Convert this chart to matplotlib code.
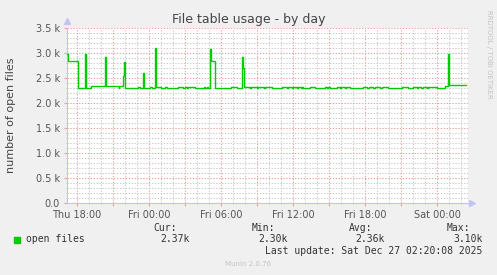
import matplotlib
matplotlib.use("Agg")
import matplotlib.pyplot as plt
from matplotlib.ticker import MultipleLocator, FuncFormatter

# hours since Thu 18:00, open files in thousands
hours = [-0.86, -0.79, -0.73, -0.03, 0.06, 0.63, 0.69, 0.77, 1.11, 1.17,
         2.29, 2.36, 2.43, 3.42, 3.47, 3.54, 3.75, 3.85, 3.94, 4.03,
         5.00, 5.06, 5.21, 5.42, 5.50, 5.58, 6.00, 6.06, 6.21, 6.46,
         6.53, 6.61, 6.90, 6.97, 7.35, 7.50, 8.45, 8.86, 9.00, 9.14,
         9.28, 9.83, 10.60, 10.70, 10.80, 10.90, 11.11, 11.18, 11.47, 12.80,
         13.36, 13.78, 13.86, 13.95, 14.40, 14.50, 15.00, 15.10, 15.60, 15.70,
         16.22, 17.06, 17.50, 17.58, 17.90, 17.98, 18.30, 18.38, 18.70, 18.78,
         18.86, 19.42, 19.83, 20.67, 20.80, 20.90, 21.08, 21.64, 21.90, 22.00,
         22.30, 22.40, 22.75, 23.86, 24.20, 24.30, 24.70, 24.80, 25.25, 25.39,
         25.94, 27.06, 27.61, 28.03, 28.30, 28.40, 28.70, 28.80, 29.14, 29.28,
         29.97, 30.25, 30.67, 30.94, 31.03, 32.39]
files = [2.98, 2.88, 2.84, 2.84, 2.30, 2.30, 2.98, 2.30, 2.30, 2.34,
         2.34, 2.92, 2.34, 2.34, 2.30, 2.34, 2.34, 2.55, 2.83, 2.30,
         2.30, 2.33, 2.30, 2.30, 2.61, 2.30, 2.30, 2.33, 2.30, 2.30,
         3.10, 2.33, 2.33, 2.30, 2.33, 2.30, 2.33, 2.31, 2.33, 2.31,
         2.32, 2.30, 2.33, 2.31, 2.33, 2.31, 3.08, 2.85, 2.30, 2.33,
         2.30, 2.92, 2.70, 2.33, 2.31, 2.33, 2.31, 2.33, 2.31, 2.33,
         2.30, 2.33, 2.31, 2.33, 2.31, 2.33, 2.31, 2.33, 2.31, 2.33,
         2.30, 2.33, 2.30, 2.33, 2.31, 2.33, 2.30, 2.33, 2.31, 2.33,
         2.31, 2.33, 2.30, 2.33, 2.31, 2.33, 2.31, 2.33, 2.30, 2.33,
         2.30, 2.33, 2.30, 2.33, 2.31, 2.33, 2.31, 2.33, 2.30, 2.33,
         2.30, 2.31, 2.34, 2.98, 2.36, 2.37]

day_labels = {0: "Thu 18:00", 6: "Fri 00:00", 12: "Fri 06:00",
              18: "Fri 12:00", 24: "Fri 18:00", 30: "Sat 00:00"}

W, H = 497, 275
fig = plt.figure(figsize=(W / 100, H / 100), dpi=100, facecolor="#F0F0F0")

ax = fig.add_axes([67 / W, 1 - 203 / H, 401 / W, 175 / H])
ax.set_facecolor("white")
ax.plot(hours, files, color="#00CC00", lw=1.0, drawstyle="steps-post", zorder=3)
ax.set_xlim(-10 / 12, 391 / 12)
ax.set_ylim(0, 3.5)

ax.xaxis.set_major_locator(MultipleLocator(3))
ax.xaxis.set_minor_locator(MultipleLocator(1))
ax.yaxis.set_major_locator(MultipleLocator(0.5))
ax.yaxis.set_minor_locator(MultipleLocator(0.1))
ax.xaxis.set_major_formatter(FuncFormatter(lambda v, p: day_labels.get(int(round(v)), "")))
ax.yaxis.set_major_formatter(FuncFormatter(lambda v, p: "0.0" if v == 0 else "%.1f k" % v))

dots = (0, (1.2, 1.6))
ax.grid(which="minor", color="#C8C8C8", lw=0.75, linestyle=dots)
ax.grid(which="major", color="#EE9C9C", lw=0.75, linestyle=dots)
ax.set_axisbelow(True)

ax.tick_params(which="major", length=2, color="#E0A0A0", labelsize=7, labelcolor="#555555", pad=3)
ax.tick_params(which="minor", length=1, color="#C8C8C8")

for s in ("top", "right"):
    ax.spines[s].set_visible(False)
for s in ("left", "bottom"):
    ax.spines[s].set_color("#C4C4F4")
    ax.spines[s].set_linewidth(0.8)
ax.plot([0], [1.04], marker="^", ms=4, color="#C4C4F4", transform=ax.transAxes, clip_on=False)
ax.plot([1.01], [0], marker=">", ms=4, color="#C4C4F4", transform=ax.transAxes, clip_on=False)

def fx(x):
    return x / W

def fy(y):
    return 1 - y / H

fig.text(fx(248.5), fy(19), "File table usage - by day", ha="center", va="center",
         fontsize=9, color="#444444")
fig.text(fx(11), fy(115), "number of open files", rotation=90, ha="center", va="center",
         fontsize=8, color="#444444")
fig.text(fx(489), fy(54), "RRDTOOL / TOBI OETIKER", rotation=270, ha="center", va="center",
         fontsize=5, color="#C4C4C4")

mono = "DejaVu Sans Mono"
fig.patches.append(plt.Rectangle((fx(14), fy(242.5)), 6 / W, 6 / H, color="#00CC00",
                                 transform=fig.transFigure, figure=fig))
fig.text(fx(26), fy(239.5), "open files", ha="left", va="center", fontsize=7, family=mono, color="#333333")
heads = [("Cur:", 177), ("Min:", 275), ("Avg:", 372.7), ("Max:", 470)]
vals = [("2.37k", 189.3), ("2.30k", 287.3), ("2.36k", 385), ("3.10k", 482.7)]
for t, x in heads:
    fig.text(fx(x), fy(227.7), t, ha="right", va="center", fontsize=7, family=mono, color="#333333")
for t, x in vals:
    fig.text(fx(x), fy(239.5), t, ha="right", va="center", fontsize=7, family=mono, color="#333333")
fig.text(fx(482.5), fy(251), "Last update: Sat Dec 27 02:20:08 2025", ha="right", va="center",
         fontsize=7, family=mono, color="#333333")
fig.text(fx(248), fy(264), "Munin 2.0.76", ha="center", va="center", fontsize=5, color="#C4C4C4")

fig.savefig("out.png", dpi=100, facecolor=fig.get_facecolor())
